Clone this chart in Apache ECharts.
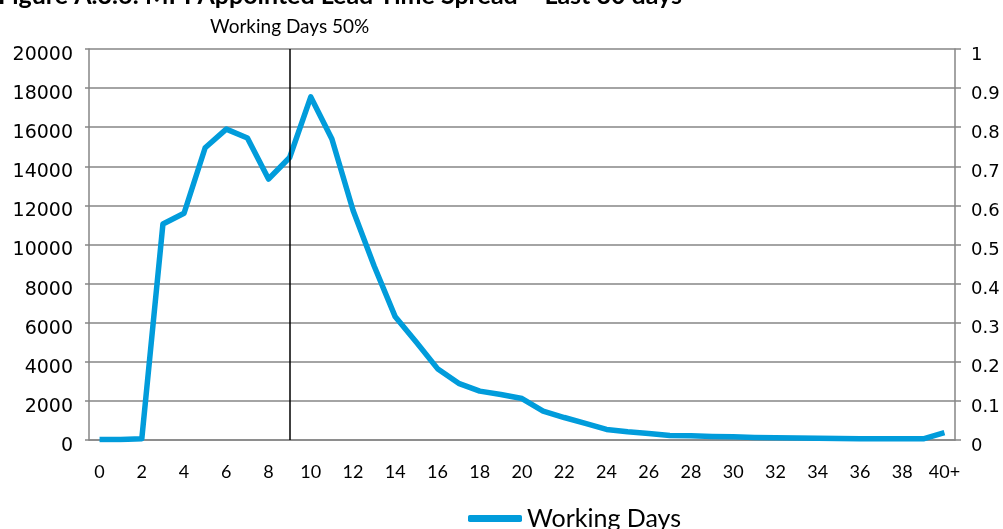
<!DOCTYPE html>
<html>
<head>
    <meta charset="utf-8">
    <title>MPI Appointed Lead Time Spread</title>
    <style type="text/css">
        html, body { margin: 0; padding: 0; background: #fff; }
        #page { width: 1003px; height: 529px; }
    </style>
</head>
<body>
<div id="page"></div>
<script src="https://cdn.jsdelivr.net/npm/echarts@6/dist/echarts.min.js"></script>
<script>
    // x axis categories (working days)
    var days = ['0', '1', '2', '3', '4', '5', '6', '7', '8', '9',
        '10', '11', '12', '13', '14', '15', '16', '17', '18', '19',
        '20', '21', '22', '23', '24', '25', '26', '27', '28', '29',
        '30', '31', '32', '33', '34', '35', '36', '37', '38', '39', '40+'];

    // count of appointments per lead time
    var workingDays = [20, 20, 60, 11050, 11600, 14950, 15900, 15450, 13350, 14450,
        17550, 15400, 11750, 8900, 6300, 5000, 3650, 2900, 2500, 2330,
        2120, 1480, 1150, 850, 540, 420, 330, 230, 220, 180,
        160, 130, 110, 100, 90, 80, 70, 70, 60, 60, 380];

    // median marker
    var medianDay = '9';
    var medianLabel = 'Working Days 50%';
    var titleText = 'Figure A.3.6: MPI Appointed Lead Time Spread \u2013 Last 30 days';

    var grey = '#868686';
    var blue = '#019CDB';

    var myChart = echarts.init(document.getElementById('page'));

    var option = {
        animation: false,
        title: {
            text: titleText,
            left: -2,
            top: -17,
            padding: 0,
            textStyle: {
                fontFamily: 'Lato',
                fontWeight: 'bold',
                fontSize: 25,
                color: '#000'
            }
        },
        grid: {
            left: 89,
            right: 48,
            top: 49,
            bottom: 89
        },
        legend: {
            data: ['Working Days'],
            left: 463,
            top: 501,
            icon: 'roundRect',
            itemWidth: 54,
            itemHeight: 7,
            itemGap: 5,
            textStyle: {
                fontFamily: 'Lato',
                fontSize: 25,
                color: '#000'
            }
        },
        xAxis: {
            type: 'category',
            data: days,
            boundaryGap: true,
            axisLine: {lineStyle: {color: grey, width: 1.5}},
            axisTick: {
                interval: 0,
                length: 5,
                lineStyle: {color: grey, width: 1.5}
            },
            axisLabel: {
                interval: 1,
                margin: 23,
                fontFamily: 'Lato',
                fontSize: 18,
                color: '#000'
            }
        },
        yAxis: [
            {
                type: 'value',
                min: 0,
                max: 20000,
                interval: 2000,
                axisLine: {show: true, lineStyle: {color: grey, width: 1.5}},
                axisTick: {show: true, length: 4, lineStyle: {color: grey, width: 1.5}},
                splitLine: {lineStyle: {color: grey, width: 1.5}},
                axisLabel: {
                    margin: 16,
                    verticalAlign: 'top',
                    lineHeight: 12,
                    formatter: function (v) { return String(v); },
                    fontFamily: 'DejaVu Sans',
                    fontSize: 19,
                    color: '#000'
                }
            },
            {
                type: 'value',
                min: 0,
                max: 1,
                interval: 0.1,
                position: 'right',
                axisLine: {show: true, lineStyle: {color: grey, width: 1.5}},
                axisTick: {show: true, length: 6, lineStyle: {color: grey, width: 1.5}},
                splitLine: {show: false},
                axisLabel: {
                    margin: 16,
                    verticalAlign: 'top',
                    lineHeight: 12,
                    fontFamily: 'DejaVu Sans',
                    fontSize: 18,
                    color: '#000'
                }
            }
        ],
        series: [
            {
                name: 'Working Days',
                type: 'line',
                data: workingDays,
                showSymbol: false,
                symbol: 'none',
                color: blue,
                lineStyle: {color: blue, width: 5.5, join: 'round'},
                markLine: {
                    silent: true,
                    symbol: 'none',
                    lineStyle: {color: '#000', width: 1.5, type: 'solid'},
                    label: {
                        show: true,
                        position: 'end',
                        distance: 13,
                        formatter: medianLabel,
                        fontFamily: 'Lato',
                        fontSize: 19,
                        color: '#000'
                    },
                    data: [{xAxis: medianDay}]
                }
            }
        ]
    };
    myChart.setOption(option);
</script>
</body>
</html>
